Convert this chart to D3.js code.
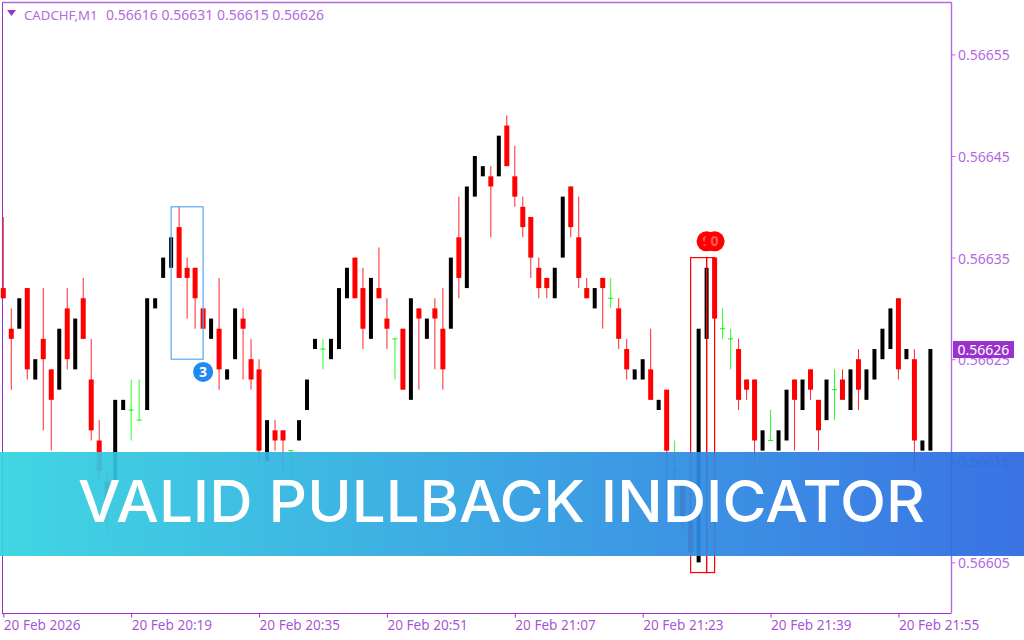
<!DOCTYPE html>
<html>
<head>
<meta charset="utf-8">
<script src="https://cdn.jsdelivr.net/npm/d3@7"></script>
<style>
    html, body { margin: 0; padding: 0; background: #fff; }
    svg { display: block; }
    text { font-family: "Noto Sans", sans-serif; }
</style>
</head>
<body>
<div id="chart"></div>
<script>
// prices are in points, 56626 means 0.56626
var opens = [56632,56628,56628,56632,56623,56627,56624,56622,56630,56624,56631,56623,56617,56613,56613,56620,56620,56619,56620,56630,
    56633,56634,56638,56634,56634,56630,56627,56628,56623,56625,56629,56625,56624,56615,56618,56618,56616,56617,56620,56626,
    56626,56625,56626,56631,56635,56632,56627,56632,56629,56627,56628,56621,56630,56627,56630,56628,56628,56637,56632,56641,
    56643,56643,56643,56648,56643,56640,56639,56634,56633,56631,56635,56642,56637,56632,56630,56633,56631,56630,56626,56623,
    56623,56624,56620,56622,56614,56613,56609,56605,56627,56635,56628,56627,56626,56623,56623,56616,56617,56616,56617,56623,
    56620,56624,56621,56619,56622,56623,56620,56625,56621,56623,56625,56626,56631,56625,56625,56616,56616];
var highs = [56639,56630,56631,56632,56625,56632,56624,56628,56632,56629,56633,56627,56619,56614,56621,56621,56623,56623,56631,56631,
    56635,56637,56640,56635,56634,56630,56629,56633,56624,56630,56630,56627,56625,56619,56619,56618,56616,56619,56623,56627,
    56627,56627,56632,56634,56635,56634,56633,56636,56631,56627,56628,56631,56630,56629,56631,56632,56635,56641,56642,56645,
    56644,56644,56647,56649,56646,56641,56639,56635,56633,56634,56641,56642,56641,56633,56632,56633,56633,56631,56627,56624,
    56625,56628,56621,56622,56617,56613,56609,56628,56634,56635,56630,56628,56627,56623,56623,56618,56620,56618,56622,56623,
    56623,56624,56621,56623,56624,56624,56624,56626,56624,56626,56628,56630,56631,56626,56626,56617,56626];
var lows = [56631,56622,56628,56623,56623,56618,56616,56622,56624,56624,56627,56617,56613,56608,56613,56620,56617,56619,56620,56630,
    56633,56634,56633,56629,56628,56628,56627,56622,56623,56625,56623,56622,56615,56615,56616,56614,56611,56617,56620,56626,
    56624,56625,56626,56631,56631,56626,56627,56631,56626,56623,56622,56621,56622,56627,56624,56622,56628,56631,56632,56641,
    56643,56637,56643,56644,56640,56637,56633,56631,56631,56631,56635,56637,56632,56631,56630,56628,56630,56626,56623,56623,
    56623,56621,56620,56611,56612,56608,56606,56605,56627,56629,56627,56624,56620,56621,56615,56616,56617,56616,56617,56616,
    56620,56621,56616,56619,56619,56621,56620,56620,56621,56623,56625,56626,56623,56625,56614,56616,56616];
var closes = [56631,56627,56631,56624,56625,56625,56621,56628,56625,56629,56627,56618,56614,56611,56621,56621,56620,56619,56631,56631,
    56635,56637,56633,56633,56631,56628,56629,56624,56624,56630,56628,56623,56616,56619,56617,56617,56616,56619,56623,56627,
    56626,56627,56632,56634,56631,56628,56633,56631,56628,56627,56622,56631,56629,56629,56629,56624,56635,56633,56642,56645,
    56644,56642,56647,56644,56641,56638,56635,56632,56632,56634,56641,56638,56633,56631,56632,56632,56631,56627,56624,56624,
    56625,56621,56621,56616,56614,56609,56606,56628,56634,56629,56628,56627,56621,56622,56617,56618,56617,56618,56622,56621,
    56623,56622,56618,56623,56622,56621,56624,56622,56624,56626,56628,56630,56624,56626,56617,56617,56626];

var priceTicks = [56655, 56645, 56635, 56625, 56615, 56605];
var timeTicks = [0, 16, 32, 48, 64, 80, 96, 112];
var timeLabels = ["20 Feb 2026", "20 Feb 20:19", "20 Feb 20:35", "20 Feb 20:51", "20 Feb 21:07", "20 Feb 21:23", "20 Feb 21:39", "20 Feb 21:55"];
var headerName = "CADCHF,M1";
var headerValues = "0.56616 0.56631 0.56615 0.56626";
var lastPrice = 56626;
var bannerTitle = "VALID PULLBACK INDICATOR";

// indicator boxes: [first candle, last candle, top price, bottom price]
var blueBoxes = [[21, 25, 56640, 56625]];
var redBoxes = [[86, 88, 56635, 56604], [88, 89, 56635, 56604]];
// signal badges: [candle, price, label]
var blueBadges = [[25, 56623.75, "3"]];
var redBadges = [[88, 56636.6, "9"], [89, 56636.6, "0"]];

var purple = "#9932cc";
var purpleSoft = "#b36ae0";
var bull = "#000000";
var bear = "#ff0000";
var doji = "#00ff00";

var width = 1024, height = 640;

var svg = d3.select("#chart").append("svg")
    .attr("width", width)
    .attr("height", height);

var x = d3.scaleLinear().domain([0, 116]).range([3.3, 930.4]);
var y = d3.scaleLinear().domain([56605, 56655]).range([562.4, 54.4]);

var candles = opens.map(function(o, i) {
    return {i: i, o: o, h: highs[i], l: lows[i], c: closes[i]};
});

// frame
svg.append("line").attr("x1", 2.5).attr("x2", 2.5).attr("y1", 2).attr("y2", 613.5)
    .attr("stroke", purple);
svg.append("line").attr("x1", 2).attr("x2", 951).attr("y1", 613.5).attr("y2", 613.5)
    .attr("stroke", purple);
svg.append("line").attr("x1", 2).attr("x2", 951.5).attr("y1", 2.5).attr("y2", 2.5)
    .attr("stroke", purpleSoft).attr("stroke-width", 1.4);
svg.append("line").attr("x1", 951.5).attr("x2", 951.5).attr("y1", 2).attr("y2", 613.5)
    .attr("stroke", purpleSoft).attr("stroke-width", 1.4);

// axes
var yAxis = d3.axisRight(y)
    .tickValues(priceTicks)
    .tickSize(4)
    .tickFormat(function(d) { return (d / 100000).toFixed(5); });

var yg = svg.append("g").attr("transform", "translate(951.5,0)").call(yAxis);
yg.select(".domain").remove();
yg.selectAll("line").attr("stroke", purpleSoft);
yg.selectAll("text")
    .attr("x", 6.5)
    .attr("y", 1)
    .attr("fill", purpleSoft)
    .style("font-family", '"Noto Sans", sans-serif')
    .style("font-size", "14px");

var xAxis = d3.axisBottom(x)
    .tickValues(timeTicks)
    .tickSize(4)
    .tickFormat(function(d, i) { return timeLabels[i]; });

var xg = svg.append("g").attr("transform", "translate(0,613.5)").call(xAxis);
xg.select(".domain").remove();
xg.selectAll("line").attr("stroke", purple);
xg.selectAll("text")
    .attr("text-anchor", "start")
    .attr("y", 7)
    .attr("fill", purple)
    .attr("fill-opacity", 0.85)
    .style("font-family", '"Noto Sans", sans-serif')
    .style("font-size", "13.6px");

// header
svg.append("path").attr("d", "M7,10 L16,10 L11.5,16 Z").attr("fill", purple);
svg.append("text").attr("x", 24).attr("y", 19.5)
    .attr("fill", purpleSoft).style("font-size", "13.2px").text(headerName);
svg.append("text").attr("x", 106).attr("y", 19.5)
    .attr("fill", purpleSoft).style("font-size", "14px").text(headerValues);

// candles: black ones show the body only, the way the chart has them
var wicks = candles.filter(function(d) { return d.c <= d.o; });

svg.append("g").selectAll("line").data(wicks).enter().append("line")
    .attr("x1", function(d) { return x(d.i); })
    .attr("x2", function(d) { return x(d.i); })
    .attr("y1", function(d) { return y(d.h); })
    .attr("y2", function(d) { return y(d.l); })
    .attr("stroke", function(d) { return d.c == d.o ? doji : bear; })
    .attr("stroke-width", 1)
    .attr("stroke-opacity", 0.85);

svg.append("g").selectAll("rect").data(candles.filter(function(d) { return d.c != d.o; }))
    .enter().append("rect")
    .attr("x", function(d) { return x(d.i) - (d.c > d.o ? 2 : 2.5); })
    .attr("width", function(d) { return d.c > d.o ? 4 : 5; })
    .attr("y", function(d) { return y(Math.max(d.o, d.c)); })
    .attr("height", function(d) { return Math.abs(y(d.o) - y(d.c)); })
    .attr("fill", function(d) { return d.c > d.o ? bull : bear; });

svg.append("g").selectAll("line").data(candles.filter(function(d) { return d.c == d.o; }))
    .enter().append("line")
    .attr("x1", function(d) { return x(d.i) - 2.5; })
    .attr("x2", function(d) { return x(d.i) + 2.5; })
    .attr("y1", function(d) { return y(d.o); })
    .attr("y2", function(d) { return y(d.o); })
    .attr("stroke", doji);

// indicator boxes
function drawBoxes(boxes, color) {
    svg.append("g").selectAll("rect").data(boxes).enter().append("rect")
        .attr("x", function(d) { return x(d[0]); })
        .attr("y", function(d) { return y(d[2]); })
        .attr("width", function(d) { return x(d[1]) - x(d[0]); })
        .attr("height", function(d) { return y(d[3]) - y(d[2]); })
        .attr("fill", "none")
        .attr("stroke", color)
        .attr("stroke-width", 1.2);
}
drawBoxes(blueBoxes, "#5aa6f2");
drawBoxes(redBoxes, "#ff0000");

function drawBadges(badges, color, textColor) {
    var g = svg.append("g").selectAll("g").data(badges).enter().append("g")
        .attr("transform", function(d) { return "translate(" + x(d[0]) + "," + y(d[1]) + ")"; });
    g.append("circle").attr("r", 10).attr("fill", color);
    g.append("text")
        .attr("text-anchor", "middle")
        .attr("dy", "0.36em")
        .attr("fill", textColor)
        .style("font-size", "14px")
        .style("font-weight", 700)
        .text(function(d) { return d[2]; });
}
drawBadges(blueBadges, "#2089f2", "#ffffff");
drawBadges(redBadges, "#ff0000", "#ff5a5a");

// last price tag
svg.append("rect").attr("x", 953).attr("y", y(lastPrice) - 8).attr("width", 61).attr("height", 17)
    .attr("fill", purple);
svg.append("text").attr("x", 957.5).attr("y", y(lastPrice) + 5.5)
    .attr("fill", "#ffffff").style("font-size", "14px")
    .text((lastPrice / 100000).toFixed(5));

// banner
var grad = svg.append("defs").append("linearGradient").attr("id", "bannerFill");
grad.append("stop").attr("offset", "0%").attr("stop-color", "#32d3e0");
grad.append("stop").attr("offset", "100%").attr("stop-color", "#2b68e2");

svg.append("rect").attr("x", 0).attr("y", 452).attr("width", width).attr("height", 104)
    .attr("fill", "url(#bannerFill)")
    .attr("fill-opacity", 0.93);
svg.append("text")
    .attr("x", 78).attr("y", 522)
    .attr("textLength", 847)
    .attr("lengthAdjust", "spacingAndGlyphs")
    .attr("fill", "#ffffff")
    .style("font-family", "Inter, sans-serif")
    .style("font-size", "58px")
    .style("font-weight", 500)
    .text(bannerTitle);
</script>
</body>
</html>
